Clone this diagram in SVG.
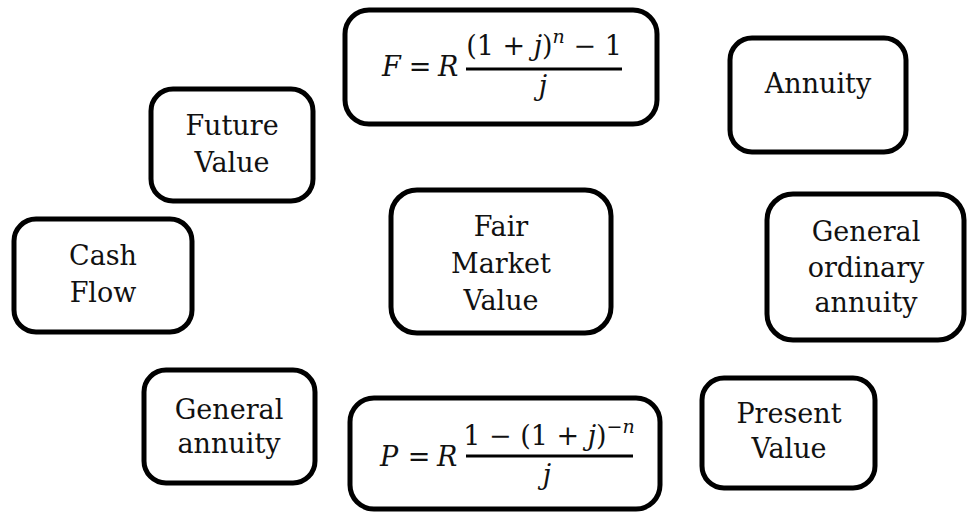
<svg xmlns="http://www.w3.org/2000/svg" width="967" height="512" viewBox="0 0 967 512">
<style>
.box{fill:#fff;stroke:#000;stroke-width:5}
.t{font-family:"DejaVu Serif",serif;font-size:27px;fill:#111;text-anchor:middle}
.m{font-family:"DejaVu Serif",serif;font-size:27px;fill:#111}
.i{font-style:italic}
.bar{stroke:#000;stroke-width:3}
</style>
<rect width="967" height="512" fill="#fff"/>
<g id="connectors"></g>
<g id="node-fv-formula">
<rect class="box" x="345" y="10" width="312" height="114" rx="24"/>
<text class="m i" x="382" y="76">F</text>
<text class="m" x="420" y="76" text-anchor="middle">=</text>
<text class="m i" x="438" y="76">R</text>
<line class="bar" x1="466" y1="69" x2="622" y2="69"/>
<text class="m" x="544" y="55" text-anchor="middle">(1 + <tspan class="i">j</tspan>)<tspan class="i" font-size="19" dy="-12">n</tspan><tspan dy="12"> − 1</tspan></text>
<text class="m i" x="543" y="95" text-anchor="middle">j</text>
</g>
<g id="node-annuity">
<rect class="box" x="730" y="38" width="176" height="114" rx="22"/>
<text class="t" x="818" y="93">Annuity</text>
</g>
<g id="node-future-value">
<rect class="box" x="151" y="89" width="162" height="112" rx="22"/>
<text class="t" x="232" y="135">Future</text>
<text class="t" x="232" y="172">Value</text>
</g>
<g id="node-cash-flow">
<rect class="box" x="14" y="219" width="178" height="113" rx="22"/>
<text class="t" x="103" y="265">Cash</text>
<text class="t" x="103" y="302">Flow</text>
</g>
<g id="node-fair-market-value">
<rect class="box" x="391" y="190" width="220" height="143" rx="26"/>
<text class="t" x="501" y="236">Fair</text>
<text class="t" x="501" y="273">Market</text>
<text class="t" x="501" y="310">Value</text>
</g>
<g id="node-general-ordinary-annuity">
<rect class="box" x="767" y="194" width="197" height="146" rx="26"/>
<text class="t" x="866" y="241">General</text>
<text class="t" x="866" y="277">ordinary</text>
<text class="t" x="866" y="312">annuity</text>
</g>
<g id="node-general-annuity">
<rect class="box" x="144" y="370" width="171" height="113" rx="22"/>
<text class="t" x="229" y="419">General</text>
<text class="t" x="229" y="453">annuity</text>
</g>
<g id="node-pv-formula">
<rect class="box" x="350" y="398" width="310" height="111" rx="24"/>
<text class="m i" x="380" y="466">P</text>
<text class="m" x="419" y="466" text-anchor="middle">=</text>
<text class="m i" x="437" y="466">R</text>
<line class="bar" x1="466" y1="456" x2="633" y2="456"/>
<text class="m" x="549" y="445" text-anchor="middle">1 − (1 + <tspan class="i">j</tspan>)<tspan font-size="19" dy="-12">−<tspan class="i">n</tspan></tspan></text>
<text class="m i" x="547" y="484" text-anchor="middle">j</text>
</g>
<g id="node-present-value">
<rect class="box" x="702" y="378" width="173" height="110" rx="22"/>
<text class="t" x="789" y="423">Present</text>
<text class="t" x="789" y="458">Value</text>
</g>
</svg>
